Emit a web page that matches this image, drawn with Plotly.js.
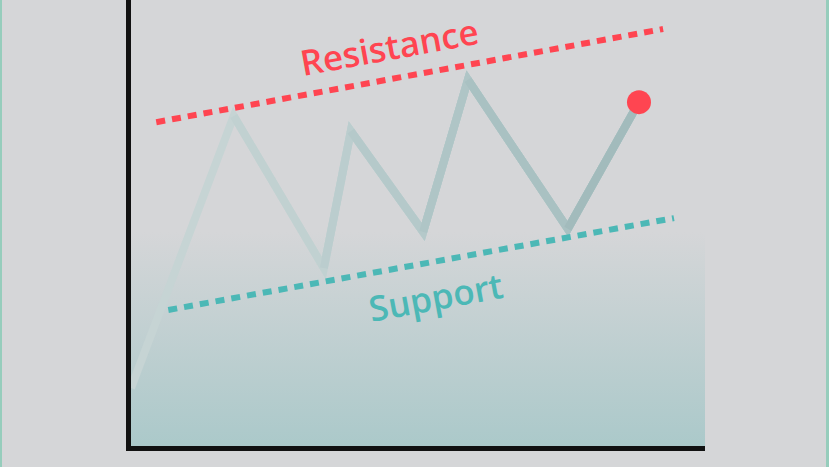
<!DOCTYPE html>
<html>
<head>
<meta charset="utf-8">
<script src="https://cdn.plot.ly/plotly-3.0.1.min.js"></script>
<style>
  html, body { margin: 0; padding: 0; background: #d5d6d8; }
  #wrap { position: relative; width: 829px; height: 467px; overflow: hidden; }
  #chart { width: 829px; height: 467px; }
  .edge { position: absolute; top: 0; height: 467px; background: #96cdbc; }
  .scatterlayer .js-line { stroke-linejoin: miter !important; stroke-miterlimit: 10; }
</style>
</head>
<body>
<div id="wrap">
  <div id="chart"></div>
  <div class="edge" style="left:0;width:2px;"></div>
  <div class="edge" style="left:826px;width:3px;"></div>
</div>
<script>
// ---- data (schematic price path, 0..100 scale) ----
const priceX = [0, 17.9, 33.6, 38.3, 50.9, 58.7, 76.1, 88.5];
const priceY = [13.0, 74.0, 39.9, 70.6, 48.0, 82.1, 48.7, 77.1];

const resistanceX = [4.4, 92.7];
const resistanceY = [72.6, 93.5];

const supportX = [6.5, 94.6];
const supportY = [30.5, 51.1];

const zoneX = [0, 100];
const zoneTop = [48, 48];

const labels = ["Resistance", "Support"];
const labelX = [44.9, 53.0];
const labelY = [89.6, 33.5];

// ---- styling ----
const segColors = ["#c6d4d4", "#c1d1d1", "#bbcdce", "#b5c9ca", "#afc5c6", "#a9c1c2", "#a2bbbc"];
const red = "#ff4551";
const teal = "#4cb8b6";

const traces = [];

// gradient zone
traces.push({
  x: zoneX, y: zoneTop, type: "scatter", mode: "lines",
  line: {width: 0, color: "rgba(0,0,0,0)"},
  fill: "tozeroy",
  fillgradient: {
    type: "vertical", start: 0, stop: zoneTop[0],
    colorscale: [[0, "#abc9ca"], [1, "#d5d6d8"]]
  },
  hoverinfo: "skip", showlegend: false
});

// price path, drawn as overlapping suffixes so colour darkens to the right
for (let i = 0; i < priceX.length - 1; i++) {
  traces.push({
    x: priceX.slice(i), y: priceY.slice(i), type: "scatter", mode: "lines",
    line: {color: segColors[i], width: 8},
    hoverinfo: "skip", showlegend: false
  });
}

// resistance & support
traces.push({
  x: resistanceX, y: resistanceY, type: "scatter", mode: "lines",
  line: {color: red, width: 6, dash: "9px,7px"},
  hoverinfo: "skip", showlegend: false
});
traces.push({
  x: supportX, y: supportY, type: "scatter", mode: "lines",
  line: {color: teal, width: 6, dash: "9px,7px"},
  hoverinfo: "skip", showlegend: false
});

// last price dot
const last = priceX.length - 1;
traces.push({
  x: [priceX[last]], y: [priceY[last]], type: "scatter", mode: "markers",
  marker: {color: red, size: 24, line: {width: 0}},
  hoverinfo: "skip", showlegend: false
});

const layout = {
  width: 829, height: 467,
  margin: {l: 131, r: 124, t: 0, b: 21},
  paper_bgcolor: "#d5d6d8",
  plot_bgcolor: "#d5d6d8",
  showlegend: false,
  xaxis: {
    range: [0, 100], showgrid: false, zeroline: false, showticklabels: false, ticks: "",
    showline: true, linecolor: "#111111", linewidth: 5, fixedrange: true
  },
  yaxis: {
    range: [0, 100], showgrid: false, zeroline: false, showticklabels: false, ticks: "",
    showline: true, linecolor: "#111111", linewidth: 5, fixedrange: true
  },
  annotations: [
    {x: labelX[0], y: labelY[0], text: labels[0], showarrow: false, textangle: -10.4,
     font: {family: "Open Sans, sans-serif", size: 35, weight: 600, color: red}},
    {x: labelX[1], y: labelY[1], text: labels[1], showarrow: false, textangle: -10.4,
     font: {family: "Open Sans, sans-serif", size: 35, weight: 600, color: teal}}
  ]
};

Plotly.newPlot("chart", traces, layout, {displayModeBar: false, staticPlot: true});
</script>
</body>
</html>
